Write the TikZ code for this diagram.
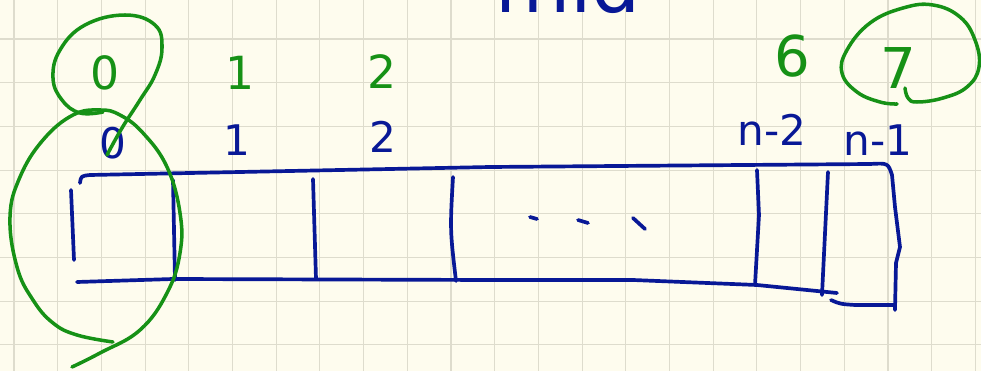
\documentclass[tikz,border=0pt]{standalone}
\usepackage{fontspec}
\setmainfont{DejaVu Sans}
\usepackage{xcolor}
\usepackage{tikz}
\definecolor{penblue}{RGB}{8, 24, 150}
\definecolor{pengreen}{RGB}{22, 145, 22}
\definecolor{paper}{RGB}{254, 252, 238}
\definecolor{gridline}{RGB}{222, 220, 205}

\begin{document}
\begin{tikzpicture}[
    x=0.02cm, y=-0.02cm,
    every node/.style={inner sep=0pt},
    inkblue/.style={draw=penblue, line width=2.1pt, line cap=round, line join=round},
    inkgreen/.style={draw=pengreen, line width=2pt, line cap=round, line join=round},
    idx/.style={text=penblue, font=\fontsize{24}{26}\selectfont},
    gidx/.style={text=pengreen, font=\fontsize{26}{28}\selectfont}
]
\useasboundingbox (0,0) rectangle (981,371);
\fill[paper] (0,0) rectangle (981,371);
% squared paper
\foreach \i in {0,...,22} \draw[gridline, line width=0.6pt] ({14+43.7*\i},0) -- ({14+43.7*\i},371);
\foreach \j in {1,...,8} \draw[gridline, line width=0.6pt] (0,{-4.7+43.7*\j}) -- (981,{-4.7+43.7*\j});

% heading, cut at the top edge
\node[text=penblue, font=\fontsize{44}{46}\selectfont] (title) at (568,-16) {mid};

% the array
\draw[inkblue] (80,183) .. controls (81,176) .. (90,175) -- (490,167) -- (870,164) .. controls (888,163) .. (892,175) -- (895,207) -- (900,247) -- (896,263) -- (895,310);
\draw[inkblue] (71,190) -- (74,260);
\draw[inkblue] (77,282) -- (173,279) -- (490,280) -- (633,280) -- (757,285) -- (837,293);
\draw[inkblue] (831,300) .. controls (840,304) .. (855,305) -- (895,305);
\draw[inkblue] (173,180) -- (175,280);
\draw[inkblue] (313,179) -- (316,279);
\draw[inkblue] (453,177) .. controls (450,230) .. (456,281);
\draw[inkblue] (757,170) -- (759,215) -- (755,285);
\draw[inkblue] (828,172) -- (822,295);
\draw[inkblue] (530,217) -- (537,219);
\draw[inkblue] (578,220) -- (588,223);
\draw[inkblue] (633,218) -- (645,229);

% indices
\node[idx] (b0) at (113,143) {0};
\node[idx] (b1) at (237,140) {1};
\node[idx] (b2) at (383,137) {2};
\node[idx] (bn2) at (772,130) {n-2};
\node[idx] (bn1) at (878,140) {n-1};

\node[gidx] (g0) at (105,73) {0};
\node[gidx] (g1) at (240,73) {1};
\node[gidx] (g2) at (382,72) {2};
\node[gidx, font=\fontsize{32}{34}\selectfont] (g6) at (792,56) {6};
\node[gidx, font=\fontsize{32}{34}\selectfont] (g7) at (898,68) {7};

% green marks
\draw[inkgreen] plot[smooth, tension=0.7] coordinates {(103,112) (80,113) (62,100) (53,78) (60,50) (85,25) (125,15) (155,25) (162,48) (155,75) (140,100) (122,128) (107,155)};
\draw[inkgreen] plot[smooth, tension=0.7] coordinates {(72,367) (100,353) (140,330) (167,293) (180,253) (180,213) (167,167) (143,133) (120,115) (100,110) (73,115) (43,140) (20,177) (10,217) (17,267) (33,300) (53,323) (77,335) (113,342)};
\draw[inkgreen] plot[smooth, tension=0.7] coordinates {(905,88) (908,98) (917,102) (943,98) (967,87) (979,67) (975,40) (960,17) (933,5) (903,8) (870,23) (847,50) (842,73) (857,92) (880,102) (897,104)};
\end{tikzpicture}
\end{document}
